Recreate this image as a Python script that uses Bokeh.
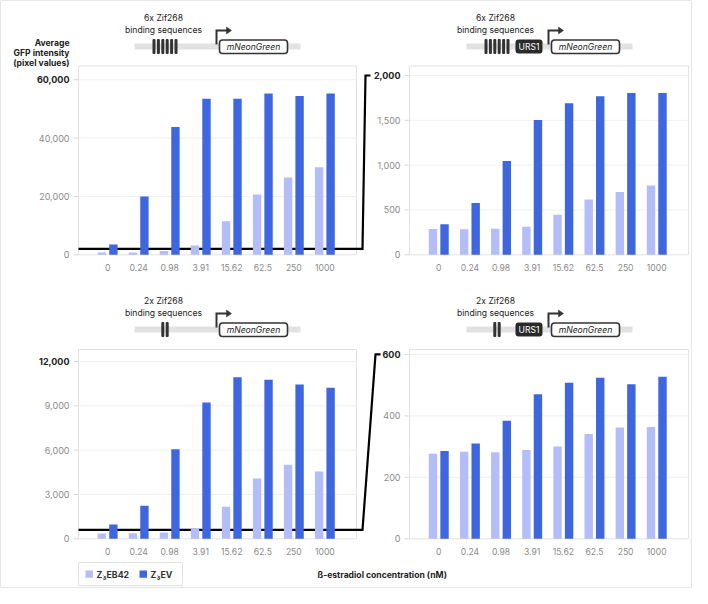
import numpy as np
from bokeh.plotting import figure
from bokeh.models import Range1d
from bokeh.core.properties import value
from bokeh.embed import file_html
from bokeh.resources import INLINE

# ---------------- data ----------------
concentrations = ["0", "0.24", "0.98", "3.91", "15.62", "62.5", "250", "1000"]
series_names = ["Z\u2083EB42", "Z\u2083EV"]

p1_eb42 = [800, 800, 1260, 3200, 11500, 20700, 26500, 30000]
p1_ev = [3560, 20000, 43800, 53500, 53500, 55300, 54400, 55300]
p2_eb42 = [287, 284, 291, 313, 448, 616, 701, 772]
p2_ev = [340, 578, 1045, 1504, 1690, 1769, 1806, 1806]
p3_eb42 = [361, 383, 429, 699, 2165, 4083, 5008, 4556]
p3_ev = [970, 2233, 6068, 9226, 10936, 10760, 10442, 10219]
p4_eb42 = [277, 283, 282, 289, 300, 341, 362, 364]
p4_ev = [286, 310, 384, 470, 508, 524, 503, 527]

p1_ticks = [0, 20000, 40000, 60000]
p2_ticks = [0, 500, 1000, 1500, 2000]
p3_ticks = [0, 3000, 6000, 9000, 12000]
p4_ticks = [0, 200, 400, 600]

construct_titles = ["6x Zif268", "6x Zif268", "2x Zif268", "2x Zif268"]
construct_sites = [6, 6, 2, 2]
construct_urs1 = [False, True, False, True]

y_title = ["Average", "GFP intensity", "(pixel values)"]
x_title = "\u00df-estradiol concentration (nM)"

# ---------------- style ----------------
LIGHT = "#b3bdf8"
DARK = "#3e67df"
FONT = value("Inter")
GRAY_TXT = "#8a8a8a"
DARK_TXT = "#222222"

W, H = 692, 588
XMIN, XMAX, YMIN, YMAX = 0, W, 0, H

p = figure(width=W, height=H, x_range=Range1d(XMIN, XMAX), y_range=Range1d(YMAX, YMIN),
           output_backend="svg", toolbar_location=None,
           x_axis_location=None, y_axis_location=None, min_border=0,
           background_fill_color="white", border_fill_color="white",
           outline_line_color="#e6e6e6")
p.grid.visible = False

LO, HI = -0.94, 8.02
panels = [
    dict(x0=78, x1=356, ytop=65.5, ybot=254.3, vmax=64700, ticks=p1_ticks, a=p1_eb42, b=p1_ev),
    dict(x0=409, x1=688, ytop=65.5, ybot=254.3, vmax=2106, ticks=p2_ticks, a=p2_eb42, b=p2_ev),
    dict(x0=78, x1=356, ytop=349, ybot=538.3, vmax=12810, ticks=p3_ticks, a=p3_eb42, b=p3_ev),
    dict(x0=409, x1=688, ytop=349, ybot=538.3, vmax=616, ticks=p4_ticks, a=p4_eb42, b=p4_ev),
]

for k, pn in enumerate(panels):
    sx = (pn["x1"] - pn["x0"]) / (HI - LO)
    sy = (pn["ybot"] - pn["ytop"]) / pn["vmax"]
    pn["sx"], pn["sy"] = sx, sy
    xn, yn = f"x{k}", f"y{k}"
    pn["xn"], pn["yn"] = xn, yn
    p.extra_x_ranges[xn] = Range1d(LO + (XMIN - pn["x0"]) / sx, LO + (XMAX - pn["x0"]) / sx)
    p.extra_y_ranges[yn] = Range1d((pn["ybot"] - YMAX) / sy, (pn["ybot"] - YMIN) / sy)


def py(pn, v):
    return pn["ybot"] - v * pn["sy"]


# ---------- frames, grid, ticks ----------
for pn in panels:
    kw = dict(x_range_name=pn["xn"], y_range_name=pn["yn"])
    p.quad(left=LO, right=HI, bottom=0, top=pn["vmax"], fill_color="white",
           line_color="#e2e2e2", line_width=1, **kw)
    gt = [t for t in pn["ticks"] if t > 0]
    p.segment(x0=[LO] * len(gt), x1=[HI] * len(gt), y0=gt, y1=gt,
              line_color="#f1f1f1", line_width=1, **kw)
    tk = pn["ticks"]
    p.segment(x0=[LO - 5 / pn["sx"]] * len(tk), x1=[LO] * len(tk), y0=tk, y1=tk,
              line_color="#d8d8d8", line_width=1, **kw)

# ---------- threshold connectors ----------
for src, dst, xs in [(0, 1, [78, 362, 365, 370]), (2, 3, [78, 362, 375, 380])]:
    thr = panels[dst]["ticks"][-1]
    ya = py(panels[src], thr)
    yb = py(panels[dst], thr)
    p.line(x=xs, y=[ya, ya, yb, yb], line_color="black", line_width=2.2, line_join="miter")

# ---------- bars ----------
idx = np.arange(len(concentrations))
for pn in panels:
    kw = dict(x_range_name=pn["xn"], y_range_name=pn["yn"])
    p.vbar(x=idx - 0.185, top=pn["a"], bottom=0, width=0.27, fill_color=LIGHT,
           line_color=None, **kw)
    p.vbar(x=idx + 0.185, top=pn["b"], bottom=0, width=0.27, fill_color=DARK,
           line_color=None, **kw)

    # y tick labels
    tk = pn["ticks"]
    labels = [f"{t:,}" for t in tk]
    p.text(x=[LO - 9 / pn["sx"]] * (len(tk) - 1), y=tk[:-1], text=labels[:-1],
           text_font=FONT, text_font_size="9px", text_color=GRAY_TXT,
           text_align="right", text_baseline="middle", **kw)
    p.text(x=[LO - 9 / pn["sx"]], y=[tk[-1]], text=[labels[-1]],
           text_font=FONT, text_font_size="9px", text_color=DARK_TXT, text_font_style="bold",
           text_align="right", text_baseline="middle", **kw)
    # category labels
    p.text(x=idx, y=[-13 / pn["sy"]] * len(idx), text=concentrations,
           text_font=FONT, text_font_size="8.6px", text_color=GRAY_TXT,
           text_align="center", text_baseline="middle", **kw)

# ---------- construct diagrams ----------
for k in range(4):
    dx = 0 if k % 2 == 0 else 332
    dy = 0 if k < 2 else 283
    cy = 46 + dy
    # backbone
    p.quad(left=134 + dx, right=300 + dx, bottom=cy + 3, top=cy - 3,
           fill_color="#e2e2e2", line_color=None)
    # binding sites
    n = construct_sites[k]
    pitch = 4.4
    cx = 164.5 + dx
    sxs = cx + (np.arange(n) - (n - 1) / 2) * pitch
    p.quad(left=sxs - 1.5, right=sxs + 1.5, bottom=cy + 7.5, top=cy - 7.5,
           fill_color="#333333", line_color=None, border_radius=1)
    # URS1
    if construct_urs1[k]:
        p.quad(left=515 + dx - 332, right=542 + dx - 332, bottom=cy + 7, top=cy - 7,
               fill_color="#2a2a2a", line_color=None, border_radius=3)
        p.text(x=[528.5 + dx - 332], y=[cy + 0.5], text=["URS1"], text_font=FONT,
               text_font_size="8.6px", text_color="white", text_align="center",
               text_baseline="middle")
    # promoter arrow
    ax = 216 + dx
    p.line(x=[ax, ax, ax + 11], y=[cy - 2, cy - 16, cy - 16], line_color="#333333",
           line_width=2, line_join="miter")
    p.patch(x=[ax + 10, ax + 10, ax + 15], y=[cy - 19.5, cy - 12.5, cy - 16],
            fill_color="#333333", line_color="#333333", line_width=0.5)
    # reporter box
    p.quad(left=219 + dx, right=287 + dx, bottom=cy + 7, top=cy - 6.5,
           fill_color="white", line_color="#333333", line_width=1.6, border_radius=3)
    p.text(x=[253 + dx], y=[cy + 0.5], text=["mNeonGreen"], text_font=FONT,
           text_font_size="8.6px", text_font_style="italic", text_color=DARK_TXT,
           text_align="center", text_baseline="middle")
    # title
    p.text(x=[163 + dx, 163 + dx], y=[17 + dy, 29 + dy],
           text=[construct_titles[k], "binding sequences"], text_font=FONT,
           text_font_size="8.6px", text_color=DARK_TXT, text_align="center",
           text_baseline="middle")

# ---------- y title ----------
p.text(x=[69] * 3, y=[42, 52, 62], text=y_title, text_font=FONT, text_font_size="8.6px",
       text_font_style="bold", text_color=DARK_TXT, text_align="right",
       text_baseline="middle")

# ---------- x title ----------
p.text(x=[317], y=[574], text=[x_title], text_font=FONT, text_font_size="8.6px",
       text_font_style="bold", text_color=DARK_TXT, text_align="left",
       text_baseline="middle")

# ---------- legend ----------
p.quad(left=78, right=182, bottom=585, top=562, fill_color="white",
       line_color="#e2e2e2", line_width=1)
p.quad(left=[85, 139], right=[92.5, 146.5], bottom=[577.3, 577.3], top=[570, 570],
       fill_color=[LIGHT, DARK], line_color=None)
p.text(x=[96, 150], y=[574, 574], text=series_names, text_font=FONT,
       text_font_size="8.8px", text_font_style="bold", text_color="#333333",
       text_align="left", text_baseline="middle")

open("out.html", "w").write(file_html(p, INLINE))
